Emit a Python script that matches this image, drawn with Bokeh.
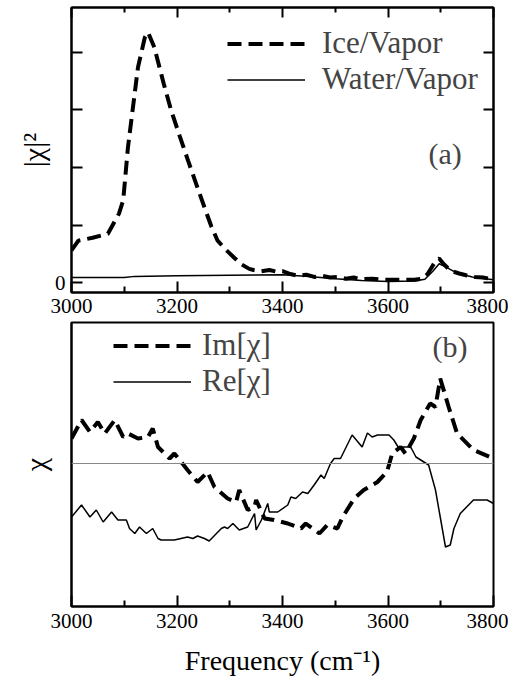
from bokeh.plotting import figure
from bokeh.models import (Range1d, LinearAxis, FixedTicker, Legend, LegendItem,
                          Label, Span, CustomLabelingPolicy)
from bokeh.layouts import column
from bokeh.embed import file_html
from bokeh.resources import INLINE

FONT = "Liberation Serif"

# ---------------- data ----------------
# panel (a): |chi|^2
freq_ice = [3000, 3013, 3040, 3069, 3090, 3098, 3107, 3126, 3139, 3145, 3157, 3175,
            3189, 3205, 3221, 3237, 3252, 3265, 3277, 3293, 3309, 3322, 3337, 3345,
            3360, 3375, 3390, 3400, 3415, 3430, 3445, 3460, 3475, 3490, 3505, 3520,
            3535, 3550, 3570, 3590, 3610, 3630, 3650, 3665, 3675, 3685, 3692, 3697,
            3705, 3718, 3735, 3748, 3765, 3780, 3800]
ice_vapor = [0.56, 0.73, 0.78, 0.85, 1.20, 1.43, 2.35, 3.74, 4.26, 4.35, 4.09, 3.45,
             2.99, 2.55, 2.12, 1.70, 1.31, 0.98, 0.73, 0.57, 0.43, 0.32, 0.24, 0.22,
             0.20, 0.22, 0.19, 0.20, 0.15, 0.12, 0.14, 0.10, 0.12, 0.09, 0.10, 0.07,
             0.09, 0.06, 0.07, 0.05, 0.05, 0.05, 0.05, 0.07, 0.15, 0.30, 0.40, 0.42,
             0.33, 0.21, 0.16, 0.13, 0.10, 0.09, 0.06]

freq_water = [3000, 3100, 3120, 3200, 3300, 3400, 3450, 3500, 3550, 3600, 3650, 3670,
              3685, 3697, 3710, 3730, 3760, 3800]
water_vapor = [0.09, 0.09, 0.11, 0.12, 0.13, 0.14, 0.11, 0.07, 0.04, 0.02, 0.03, 0.06,
               0.20, 0.33, 0.27, 0.17, 0.10, 0.05]

# panel (b): Im and Re of chi
freq_im = [3000, 3019, 3035, 3050, 3063, 3082, 3098, 3107, 3126, 3145, 3154, 3164,
           3186, 3195, 3220, 3239, 3258, 3271, 3296, 3312, 3318, 3334, 3347, 3350,
           3366, 3384, 3410, 3435, 3444, 3470, 3485, 3504, 3514, 3536, 3554, 3580,
           3598, 3608, 3624, 3633, 3649, 3662, 3680, 3690, 3699, 3715, 3731, 3762, 3800]
im_chi = [0.50, 0.87, 0.63, 0.83, 0.60, 0.87, 0.53, 0.60, 0.50, 0.53, 0.70, 0.33,
          0.10, 0.20, -0.13, -0.37, -0.17, -0.47, -0.70, -0.77, -0.53, -0.93, -0.87, -0.73,
          -1.10, -1.13, -1.20, -1.30, -1.20, -1.40, -1.23, -1.30, -1.07, -0.70, -0.53, -0.37,
          -0.17, 0.20, 0.33, 0.20, 0.50, 0.87, 1.20, 1.13, 1.70, 1.13, 0.60, 0.27, 0.10]

freq_re = [3000, 3019, 3035, 3047, 3060, 3076, 3088, 3104, 3110, 3120, 3129, 3142,
           3154, 3164, 3170, 3195, 3220, 3230, 3239, 3252, 3261, 3284, 3290, 3296,
           3306, 3318, 3334, 3347, 3350, 3360, 3372, 3375, 3391, 3410, 3416, 3425,
           3438, 3448, 3460, 3473, 3479, 3491, 3498, 3510, 3532, 3551, 3561, 3570,
           3580, 3602, 3611, 3621, 3630, 3643, 3653, 3662, 3677, 3690, 3699, 3709,
           3718, 3725, 3737, 3762, 3788, 3800]
re_chi = [-1.07, -0.83, -1.07, -0.93, -1.17, -0.97, -1.13, -1.13, -1.30, -1.40, -1.27, -1.40,
          -1.30, -1.50, -1.53, -1.53, -1.47, -1.50, -1.45, -1.50, -1.55, -1.30, -1.27, -1.30,
          -1.20, -1.33, -1.27, -1.00, -1.33, -1.13, -0.80, -0.97, -0.97, -0.83, -0.67, -0.70,
          -0.57, -0.60, -0.43, -0.23, -0.30, 0.00, 0.10, 0.10, 0.57, 0.33, 0.61, 0.53,
          0.57, 0.57, 0.47, 0.30, 0.33, 0.33, 0.13, 0.07, -0.03, -0.53, -1.07, -1.67,
          -1.63, -1.30, -1.00, -0.73, -0.73, -0.80]

x_major_ticks = [3000, 3200, 3400, 3600, 3800]
x_minor_ticks = [3100, 3300, 3500, 3700]
y_ticks_a = [0, 1, 2, 3, 4]

HIDE_JS = """
for (const i of Array.from(indices)) {
  if (i >= KEEP) {
    if (typeof indices.unset === 'function') { indices.unset(i) } else { indices.set(i, false) }
  }
}
return indices
"""


def labeling(keep):
    return CustomLabelingPolicy(code=HIDE_JS.replace("KEEP", str(keep)))


def base_style(ax, lw=2):
    ax.axis_line_width = lw
    ax.axis_line_color = "black"
    ax.major_tick_line_width = 2
    ax.minor_tick_line_width = 2
    ax.major_tick_out = 0
    ax.minor_tick_out = 0
    ax.major_tick_in = 11
    ax.minor_tick_in = 6
    ax.major_label_text_font = FONT
    ax.major_label_text_font_size = "21px"
    ax.major_label_text_color = "black"
    ax.axis_label_text_font = FONT
    ax.axis_label_text_font_style = "normal"
    ax.axis_label_text_color = "black"


def hidden_labels(ax):
    ax.major_label_policy = labeling(0)
    ax.major_label_text_font_size = "0px"
    ax.major_label_standoff = 0


def new_fig(frame_h, y_rng, **kw):
    p = figure(frame_width=422, frame_height=frame_h,
               x_range=Range1d(3000, 3800), y_range=y_rng,
               output_backend="svg", toolbar_location=None, **kw)
    p.xgrid.visible = False
    p.ygrid.visible = False
    p.outline_line_color = "black"
    p.outline_line_width = 2
    p.outline_line_alpha = 1
    p.background_fill_color = "white"
    p.border_fill_color = "white"
    return p


# ---------------- panel (a) ----------------
p1 = new_fig(285, Range1d(-0.17, 4.78), min_border_left=71, min_border_right=15,
             min_border_top=7, min_border_bottom=25)

xb = p1.xaxis[0]
base_style(xb)
xb.ticker = FixedTicker(ticks=x_major_ticks, minor_ticks=x_minor_ticks)
xb.major_label_standoff = 6

yl = p1.yaxis[0]
base_style(yl)
yl.ticker = FixedTicker(ticks=y_ticks_a)
yl.major_label_policy = labeling(1)
yl.minor_tick_in = 0
yl.major_label_standoff = 6
yl.axis_label = "|χ|²"
yl.axis_label_text_font_size = "30px"
yl.axis_label_standoff = 2

xt = LinearAxis(ticker=FixedTicker(ticks=x_major_ticks, minor_ticks=x_minor_ticks))
base_style(xt)
xt.major_tick_in = 10
xt.minor_tick_in = 5
hidden_labels(xt)
p1.add_layout(xt, "above")

yr = LinearAxis(ticker=FixedTicker(ticks=y_ticks_a))
base_style(yr)
yr.major_tick_in = 10
yr.minor_tick_in = 0
hidden_labels(yr)
p1.add_layout(yr, "right")

r_ice = p1.line(freq_ice, ice_vapor, line_color="black", line_width=4, line_dash="14 7")
r_water = p1.line(freq_water, water_vapor, line_color="black", line_width=1.5)

leg1 = Legend(items=[LegendItem(label="Ice/Vapor", renderers=[r_ice]),
                     LegendItem(label="Water/Vapor", renderers=[r_water])],
              location=(156, 195), glyph_width=78, glyph_height=33, label_height=33,
              label_standoff=17, spacing=0, padding=0, margin=0,
              border_line_color=None, background_fill_alpha=0,
              label_text_font=FONT, label_text_font_size="31px")
p1.add_layout(leg1)

p1.add_layout(Label(x=357, y=139, x_units="screen", y_units="screen", text="(a)",
                    text_baseline="middle", text_font=FONT, text_font_size="30px"))

# ---------------- panel (b) ----------------
p2 = new_fig(284, Range1d(-2.86, 2.82), min_border_left=71, min_border_right=15,
             min_border_top=5, min_border_bottom=62)

xb2 = p2.xaxis[0]
base_style(xb2)
xb2.ticker = FixedTicker(ticks=x_major_ticks, minor_ticks=x_minor_ticks)
xb2.major_label_standoff = 7
xb2.axis_label = "Frequency (cm⁻¹)"
xb2.axis_label_text_font_size = "28px"
xb2.axis_label_standoff = 14

yl2 = p2.yaxis[0]
base_style(yl2)
yl2.ticker = FixedTicker(ticks=[])
yl2.axis_label = "χ"
yl2.axis_label_text_font_size = "30px"
yl2.axis_label_standoff = 20

p2.add_layout(Span(location=0, dimension="width", line_color="#888888", line_width=1.2))

r_im = p2.line(freq_im, im_chi, line_color="black", line_width=4, line_dash="14 7")
r_re = p2.line(freq_re, re_chi, line_color="black", line_width=1.5)

leg2 = Legend(items=[LegendItem(label="Im[χ]", renderers=[r_im]),
                     LegendItem(label="Re[χ]", renderers=[r_re])],
              location=(42, 207), glyph_width=78, glyph_height=33, label_height=33,
              label_standoff=11, spacing=0, padding=0, margin=0,
              border_line_color=None, background_fill_alpha=0,
              label_text_font=FONT, label_text_font_size="31px")
p2.add_layout(leg2)

p2.add_layout(Label(x=361, y=260, x_units="screen", y_units="screen", text="(b)",
                    text_baseline="middle", text_font=FONT, text_font_size="30px"))

layout = column(p1, p2, spacing=0)
open("out.html", "w").write(file_html(layout, INLINE))
